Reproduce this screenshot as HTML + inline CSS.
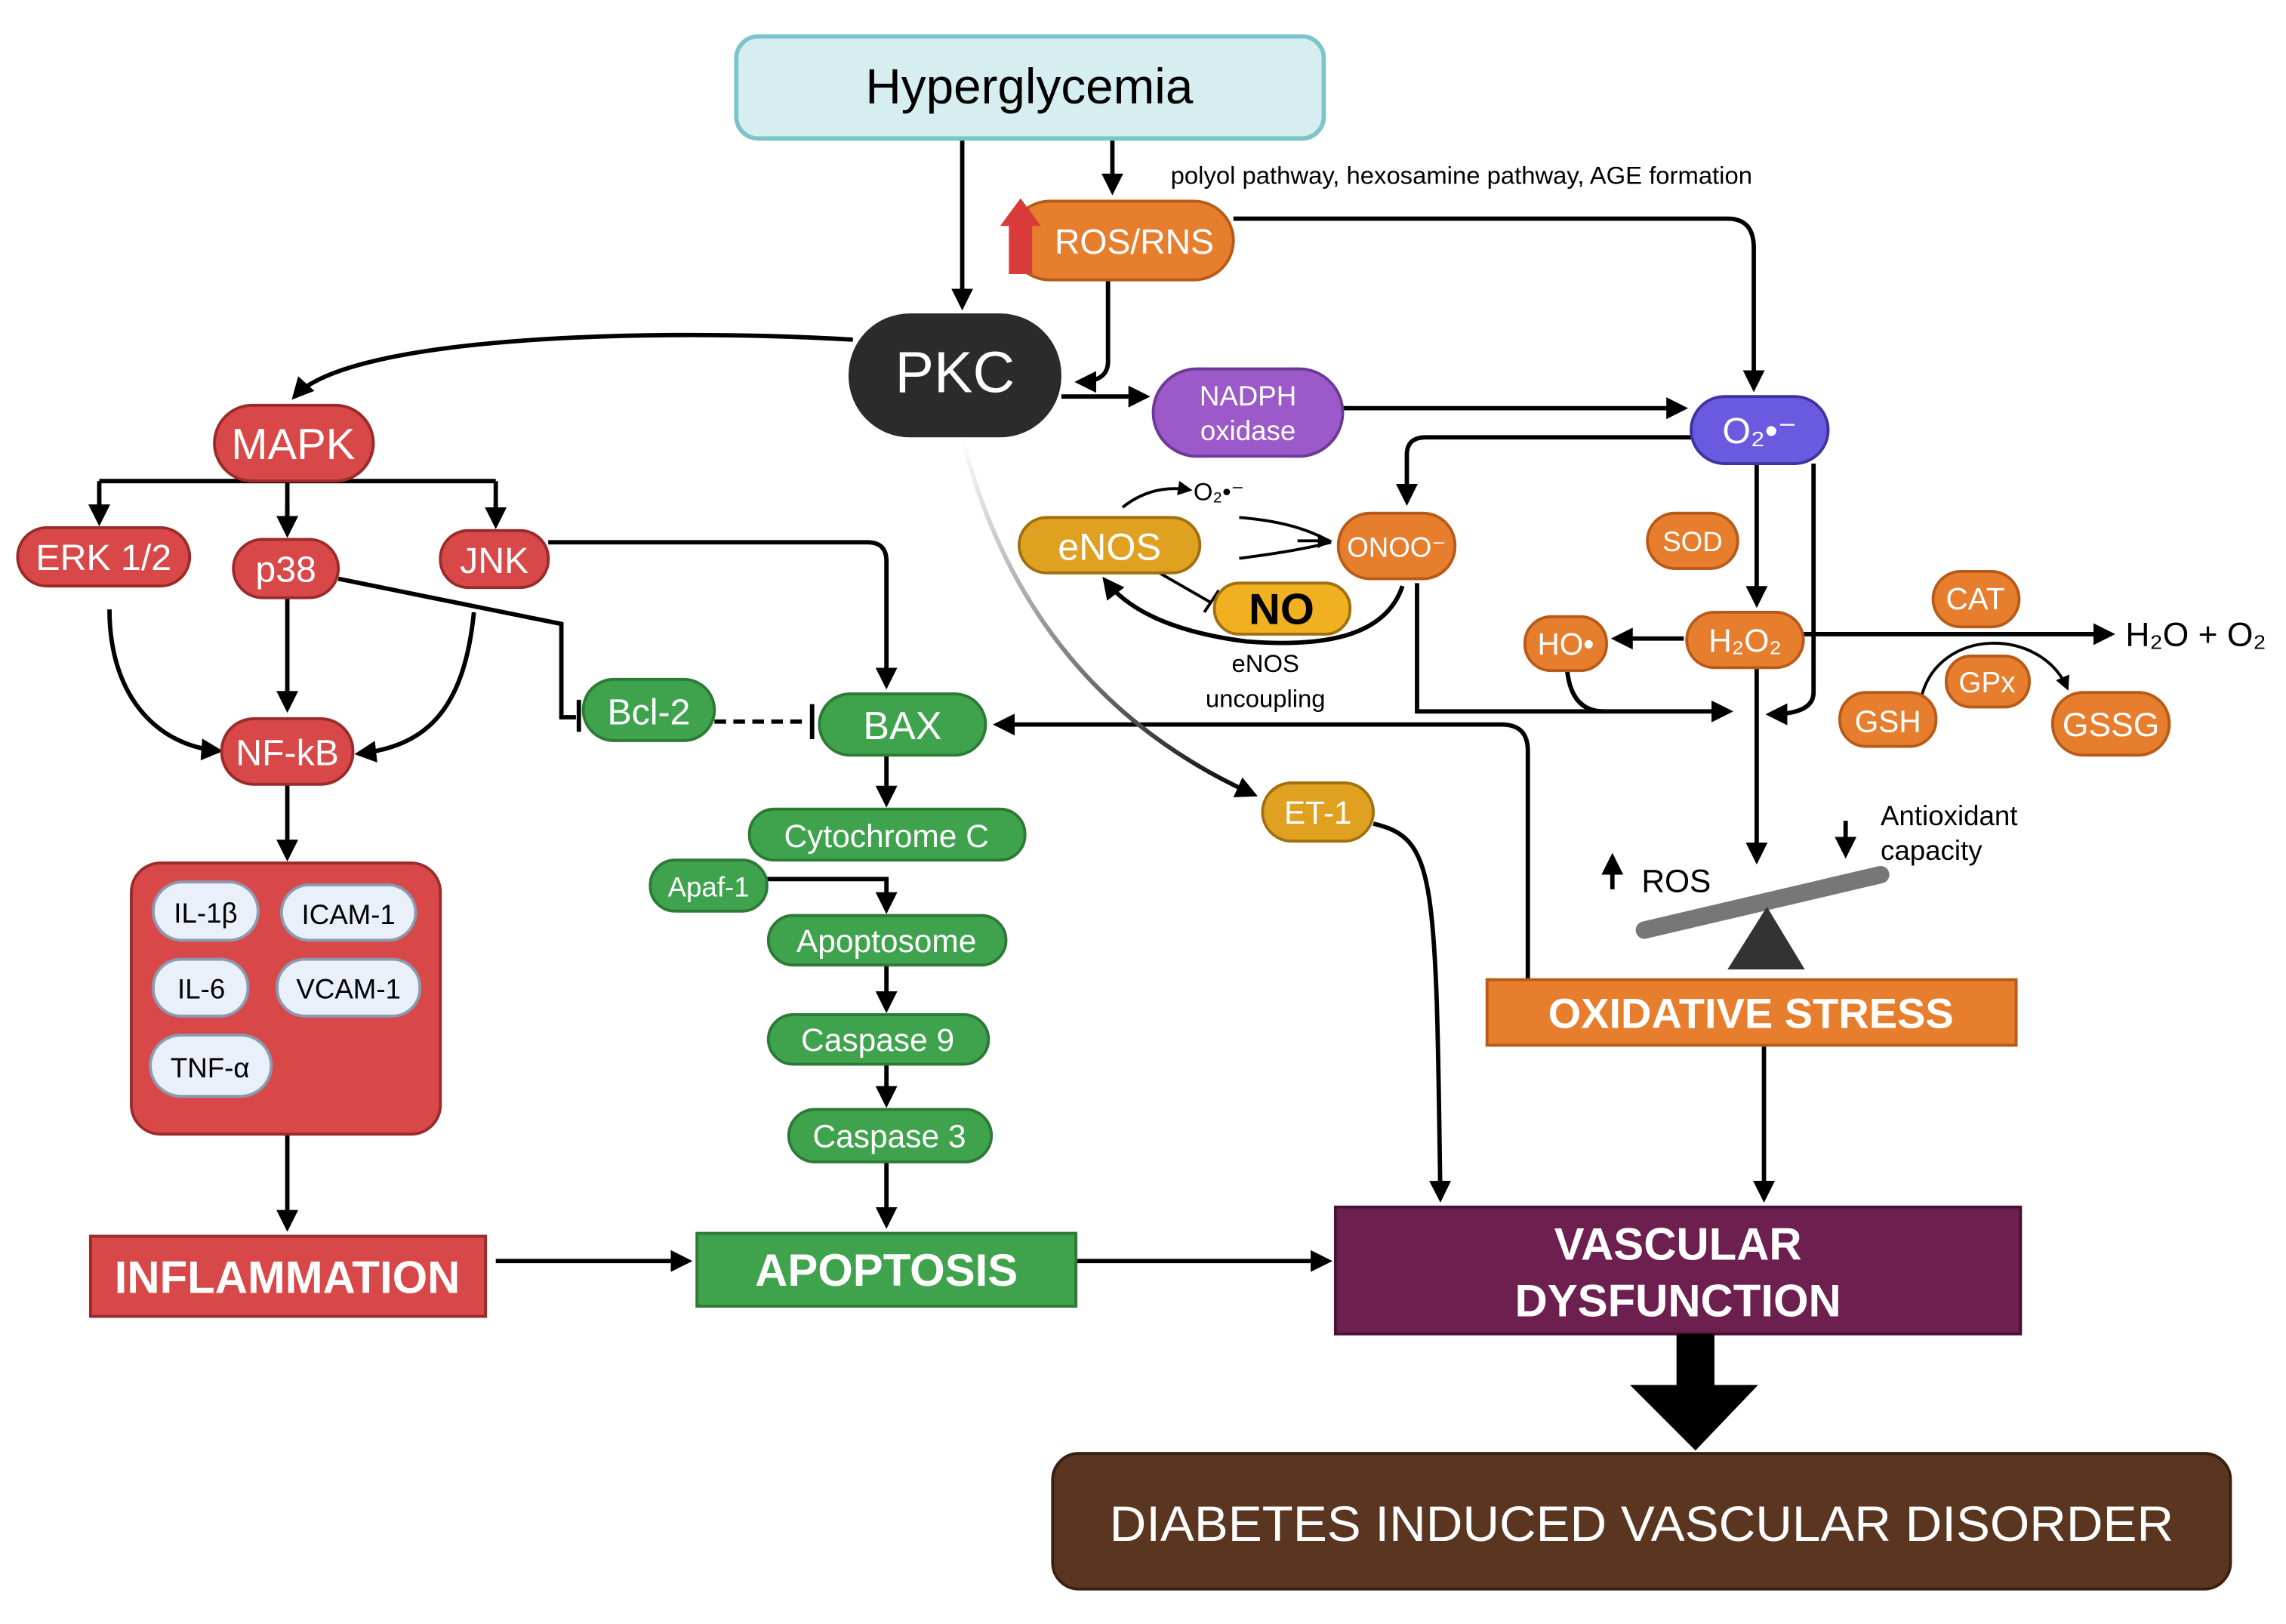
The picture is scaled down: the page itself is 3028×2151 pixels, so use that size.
<!DOCTYPE html>
<html><head><meta charset="utf-8"><style>
html,body{margin:0;padding:0;background:#fff}
svg{display:block}
text{font-family:"Liberation Sans",sans-serif}
</style></head><body>
<svg width="3028" height="2151" viewBox="0 0 1568 1114" xmlns="http://www.w3.org/2000/svg">
<defs>
<marker id="a" viewBox="0 0 10 10" refX="8" refY="5" markerWidth="5" markerHeight="5" orient="auto"><path d="M0,0 L10,5 L0,10 z" fill="#000"/></marker>
<linearGradient id="g" x1="0" y1="0" x2="1" y2="1"><stop offset="0" stop-color="#fff"/><stop offset="1" stop-color="#000"/></linearGradient>
</defs>
<g fill="none" stroke="#000" stroke-width="3">
<path d="M660,95 V210" marker-end="url(#a)"/>
<path d="M763,95 V131" marker-end="url(#a)"/>
<path d="M846,150 H1185 Q1203,150 1203,170 V266" marker-end="url(#a)"/>
<path d="M760,192 V248 Q760,262 740,262" marker-end="url(#a)"/>
<path d="M585,233 C450,225 240,230 202,272" marker-end="url(#a)"/>
<path d="M68,330 H340 M68,330 V358 M340,330 V360 M197,330 V366" />
<path d="M68,345 V358" marker-end="url(#a)"/><path d="M197,345 V366" marker-end="url(#a)"/><path d="M340,345 V360" marker-end="url(#a)"/>
<path d="M75,418 C75,480 110,512 150,515" marker-end="url(#a)"/>
<path d="M197,410 V486" marker-end="url(#a)"/>
<path d="M325,420 C318,490 290,512 246,517" marker-end="url(#a)"/>
<path d="M232,397 L385,428 V492 H395 M397,480 V502"/>
<path d="M490,495 H553" stroke-dasharray="8,5"/><path d="M557,483 V507"/>
<path d="M376,372 H595 Q608,372 608,385 V470" marker-end="url(#a)"/>
<path d="M608,518 V551" marker-end="url(#a)"/>
<path d="M526,603 H608 V624" marker-end="url(#a)"/>
<path d="M608,662 V692" marker-end="url(#a)"/>
<path d="M608,730 V757" marker-end="url(#a)"/>
<path d="M608,797 V840" marker-end="url(#a)"/>
<path d="M197,538 V588" marker-end="url(#a)"/>
<path d="M197,778 V842" marker-end="url(#a)"/>
<path d="M340,865 H472" marker-end="url(#a)"/>
<path d="M738,865 H911" marker-end="url(#a)"/>
<path d="M728,272 H786" marker-end="url(#a)"/>
<path d="M921,280 H1155" marker-end="url(#a)"/>
<path d="M1160,300 H978 Q965,300 965,312 V344" marker-end="url(#a)"/>
<path d="M770,348 Q790,332 816,336" stroke-width="2" marker-end="url(#a)"/>
<path d="M850,355 Q890,358 913,372 M850,383 Q890,378 913,372" stroke-width="2"/>
<path d="M890,371 H912" stroke-width="2" marker-end="url(#a)"/>
<path d="M790,390 L830,413 M826,420 L836,405" stroke-width="2"/>
<path d="M962,402 C950,438 905,444 855,440 C808,434 775,420 758,398" marker-end="url(#a)"/>
<path d="M972,400 V488 H1186" marker-end="url(#a)"/>
<path d="M1205,318 V414" marker-end="url(#a)"/>
<path d="M1244,318 V475 Q1244,490 1214,490" marker-end="url(#a)"/>
<path d="M1155,438 H1108" marker-end="url(#a)"/>
<path d="M1075,460 Q1078,488 1100,488"/>
<path d="M1237,435 H1448" marker-end="url(#a)"/>
<path d="M1318,478 C1330,430 1400,430 1418,472" stroke-width="2" marker-end="url(#a)"/>
<path d="M1205,458 V590" marker-end="url(#a)"/>
<path d="M1266,563 V586" marker-end="url(#a)"/><path d="M1106,610 V588" marker-end="url(#a)"/>
<path d="M1048,672 V515 Q1048,497 1030,497 H684" marker-end="url(#a)"/>
<path d="M1210,717 V822" marker-end="url(#a)"/>
<path d="M660,300 C690,420 760,500 860,545" stroke="url(#g)" marker-end="url(#a)"/>
<path d="M942,565 C985,575 985,600 988,822" marker-end="url(#a)"/>
</g>
<rect x="505" y="25" width="403" height="70" rx="15" fill="#d6eef0" stroke="#7cc4c8" stroke-width="3"/>
<text x="706" y="71" font-size="34" text-anchor="middle">Hyperglycemia</text>
<text x="803" y="126" font-size="17">polyol pathway, hexosamine pathway, AGE formation</text>
<g stroke-width="2">
<rect x="693" y="138" width="153" height="54" rx="27" fill="#e67e2e" stroke="#b85a18"/>
<path d="M692,188 V155 H686 L700,136 L714,155 H708 V188 z" fill="#d93a3a"/>
<rect x="582" y="215" width="146" height="85" rx="42" fill="#2b2b2b"/>
<rect x="147" y="278" width="109" height="52" rx="26" fill="#d94848" stroke="#9b2a2a"/>
<rect x="12" y="362" width="118" height="40" rx="20" fill="#d94848" stroke="#9b2a2a"/>
<rect x="160" y="370" width="72" height="40" rx="20" fill="#d94848" stroke="#9b2a2a"/>
<rect x="302" y="364" width="74" height="39" rx="19" fill="#d94848" stroke="#9b2a2a"/>
<rect x="152" y="493" width="90" height="45" rx="22" fill="#d94848" stroke="#9b2a2a"/>
<rect x="90" y="592" width="212" height="186" rx="20" fill="#d94848" stroke="#9b2a2a"/>
<g fill="#eaf0fa" stroke="#8a9ab0"><rect x="105" y="605" width="72" height="40" rx="20"/><rect x="193" y="607" width="92" height="38" rx="19"/><rect x="105" y="658" width="65" height="39" rx="19"/><rect x="190" y="658" width="98" height="39" rx="19"/><rect x="103" y="710" width="83" height="42" rx="21"/></g>
<rect x="62" y="848" width="271" height="55" fill="#d94848" stroke="#9b2a2a"/>
<rect x="400" y="466" width="90" height="42" rx="21" fill="#3fa34d" stroke="#2d7a36"/>
<rect x="562" y="476" width="114" height="42" rx="21" fill="#3fa34d" stroke="#2d7a36"/>
<rect x="514" y="555" width="189" height="35" rx="17" fill="#3fa34d" stroke="#2d7a36"/>
<rect x="446" y="590" width="80" height="35" rx="17" fill="#3fa34d" stroke="#2d7a36"/>
<rect x="527" y="628" width="163" height="34" rx="17" fill="#3fa34d" stroke="#2d7a36"/>
<rect x="527" y="696" width="151" height="34" rx="17" fill="#3fa34d" stroke="#2d7a36"/>
<rect x="541" y="761" width="139" height="36" rx="18" fill="#3fa34d" stroke="#2d7a36"/>
<rect x="478" y="846" width="260" height="50" fill="#3fa34d" stroke="#2d7a36"/>
<rect x="791" y="253" width="130" height="60" rx="30" fill="#9b59c9" stroke="#6c3a96"/>
<rect x="1160" y="272" width="94" height="46" rx="23" fill="#6a5ae0" stroke="#3e33a0"/>
<rect x="699" y="355" width="124" height="38" rx="19" fill="#e0a020" stroke="#a07010"/>
<rect x="918" y="352" width="80" height="45" rx="22" fill="#e67e2e" stroke="#b85a18"/>
<rect x="833" y="400" width="93" height="35" rx="17" fill="#f0b020" stroke="#a07010"/>
<rect x="1130" y="352" width="62" height="38" rx="19" fill="#e67e2e" stroke="#b85a18"/>
<rect x="1157" y="420" width="80" height="38" rx="19" fill="#e67e2e" stroke="#b85a18"/>
<rect x="1046" y="423" width="56" height="37" rx="18" fill="#e67e2e" stroke="#b85a18"/>
<rect x="1326" y="392" width="59" height="38" rx="19" fill="#e67e2e" stroke="#b85a18"/>
<rect x="1335" y="450" width="57" height="35" rx="17" fill="#e67e2e" stroke="#b85a18"/>
<rect x="1262" y="475" width="66" height="37" rx="18" fill="#e67e2e" stroke="#b85a18"/>
<rect x="1408" y="475" width="80" height="43" rx="21" fill="#e67e2e" stroke="#b85a18"/>
<rect x="866" y="537" width="76" height="40" rx="20" fill="#e0a020" stroke="#a07010"/>
<rect x="1020" y="672" width="363" height="45" fill="#e67e2e" stroke="#b85a18"/>
<rect x="916" y="828" width="470" height="87" fill="#6d1f4f" stroke="#4a1035"/>
</g>
<line x1="1128" y1="638" x2="1290" y2="600" stroke="#777" stroke-width="12" stroke-linecap="round"/>
<path d="M1185,665 L1212,622 L1238,665 z" fill="#333"/>
<path d="M1150,915 H1176 V950 H1206 L1163,995 L1118,950 H1150 z" fill="#000"/>
<rect x="722" y="997" width="808" height="93" rx="18" fill="#5a3520" stroke="#3a2010" stroke-width="2"/>
<g fill="#fff" text-anchor="middle">
<text x="778" y="174" font-size="24">ROS/RNS</text>
<text x="655" y="269" font-size="40">PKC</text>
<text x="201" y="315" font-size="30">MAPK</text>
<text x="71" y="391" font-size="25">ERK 1/2</text>
<text x="196" y="399" font-size="25">p38</text>
<text x="339" y="393" font-size="25">JNK</text>
<text x="197" y="525" font-size="25">NF-kB</text>
<text x="197" y="887" font-size="31" font-weight="bold">INFLAMMATION</text>
<text x="445" y="497" font-size="25">Bcl-2</text>
<text x="619" y="507" font-size="27">BAX</text>
<text x="608" y="581" font-size="22">Cytochrome C</text>
<text x="486" y="615" font-size="19">Apaf-1</text>
<text x="608" y="653" font-size="22">Apoptosome</text>
<text x="602" y="721" font-size="22">Caspase 9</text>
<text x="610" y="787" font-size="22">Caspase 3</text>
<text x="608" y="882" font-size="31" font-weight="bold">APOPTOSIS</text>
<text x="856" y="278" font-size="19">NADPH</text>
<text x="856" y="302" font-size="19">oxidase</text>
<text x="1207" y="304" font-size="25">O₂•⁻</text>
<text x="761" y="384" font-size="26">eNOS</text>
<text x="958" y="382" font-size="19">ONOO⁻</text>
<text x="1161" y="378" font-size="19">SOD</text>
<text x="1197" y="447" font-size="22">H₂O₂</text>
<text x="1074" y="449" font-size="21">HO•</text>
<text x="1355" y="418" font-size="21">CAT</text>
<text x="1363" y="475" font-size="20">GPx</text>
<text x="1295" y="502" font-size="21">GSH</text>
<text x="1448" y="505" font-size="23">GSSG</text>
<text x="904" y="565" font-size="22">ET-1</text>
<text x="1201" y="705" font-size="29" font-weight="bold">OXIDATIVE STRESS</text>
<text x="1151" y="864" font-size="31" font-weight="bold">VASCULAR</text>
<text x="1151" y="903" font-size="31" font-weight="bold">DYSFUNCTION</text>
<text x="1126" y="1057" font-size="34" textLength="730" lengthAdjust="spacingAndGlyphs">DIABETES INDUCED VASCULAR DISORDER</text>
</g>
<g text-anchor="middle" fill="#000">
<text x="141" y="633" font-size="19">IL-1β</text>
<text x="239" y="634" font-size="19">ICAM-1</text>
<text x="138" y="685" font-size="19">IL-6</text>
<text x="239" y="685" font-size="19">VCAM-1</text>
<text x="144" y="739" font-size="19">TNF-α</text>
<text x="879" y="428" font-size="30" font-weight="bold">NO</text>
<text x="836" y="343" font-size="17">O₂•⁻</text>
<text x="868" y="461" font-size="17">eNOS</text>
<text x="868" y="485" font-size="17">uncoupling</text>
</g>
<text x="1458" y="443" font-size="23">H₂O + O₂</text>
<text x="1126" y="612" font-size="22">ROS</text>
<text x="1290" y="566" font-size="19">Antioxidant</text>
<text x="1290" y="590" font-size="19">capacity</text>
</svg>
</body></html>
